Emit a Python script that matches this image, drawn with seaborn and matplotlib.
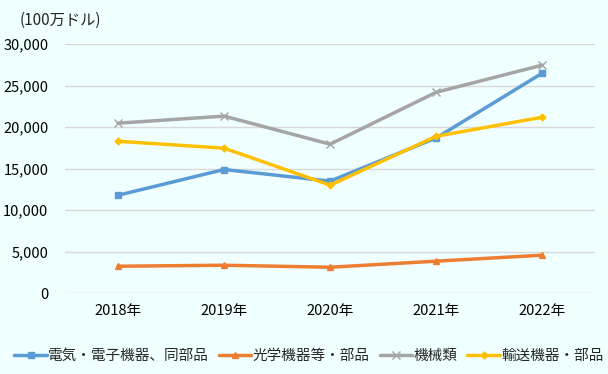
import pandas as pd
import matplotlib.pyplot as plt
import seaborn as sns
from matplotlib.ticker import FuncFormatter

years = ['2018年', '2019年', '2020年', '2021年', '2022年']
electric = [11800, 14900, 13500, 18700, 26500]
optical = [3250, 3370, 3130, 3860, 4580]
machinery = [20480, 21330, 17950, 24200, 27470]
transport = [18300, 17470, 13010, 18900, 21200]

series_names = ['電気・電子機器、同部品', '光学機器等・部品', '機械類', '輸送機器・部品']
colors = ['#5B9BD5', '#ED7D31', '#A5A5A5', '#FFC000']
markers = ['s', '^', 'x', 'D']
sizes = [5, 5, 5.5, 3.5]

df = pd.DataFrame({'year': years * 4,
                   'value': electric + optical + machinery + transport,
                   'series': [n for n in series_names for _ in years]})

sns.set_style('white')
plt.rcParams['font.family'] = ['Noto Sans CJK JP', 'DejaVu Sans']

bg = '#F0FFFF'
fig = plt.figure(figsize=(6.08, 3.74), dpi=100, facecolor=bg)
ax = fig.add_axes([0.107, 0.216, 0.872, 0.666], facecolor=bg)

for name, c, m, s in zip(series_names, colors, markers, sizes):
    sub = df[df['series'] == name]
    sns.lineplot(data=sub, x='year', y='value', ax=ax, color=c, marker=m,
                 markersize=s, linewidth=2.5, markeredgecolor=c,
                 markeredgewidth=1.0, label=name, sort=False)

ax.set_ylim(0, 30000)
ax.set_yticks(range(0, 30001, 5000))
ax.yaxis.set_major_formatter(FuncFormatter(lambda v, p: f'{int(v):,}'))
ax.set_xlim(-0.5, 4.5)
ax.grid(axis='y', color='#D9D9D9', linewidth=1)
ax.set_axisbelow(True)
for sp in ax.spines.values():
    sp.set_visible(False)
ax.set_xlabel('')
ax.set_ylabel('')
ax.tick_params(axis='both', length=0, labelsize=10.5, colors='#000000')
ax.tick_params(axis='y', pad=12)
ax.tick_params(axis='x', pad=8)

fig.text(0.033, 0.945, '(100万ドル)', fontsize=11, ha='left', va='center')

ax.legend(loc='upper center', bbox_to_anchor=(0.46, -0.20), ncol=4, frameon=False,
          fontsize=10.5, handlelength=2.2, handletextpad=0.1, columnspacing=0.7,
          borderaxespad=0)

fig.savefig('out.png', dpi=100, facecolor=bg)
